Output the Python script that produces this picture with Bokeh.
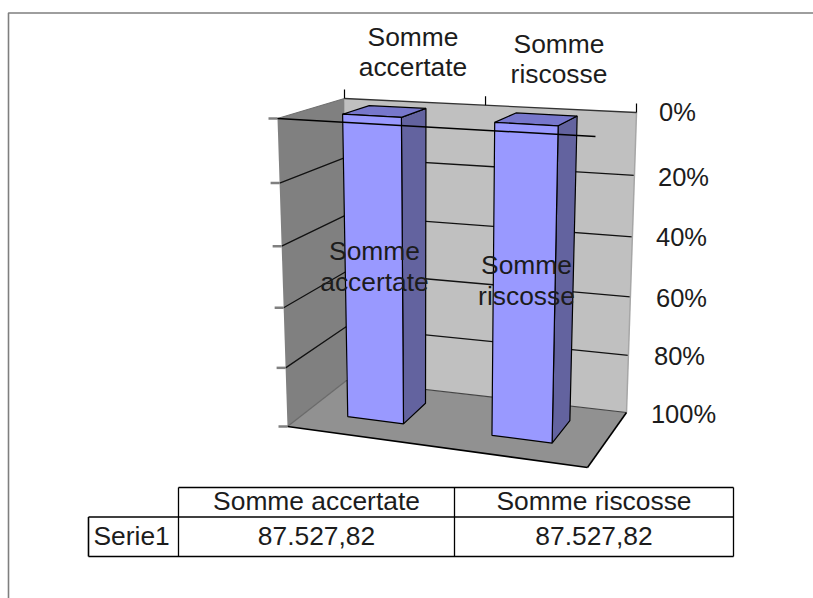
from bokeh.embed import file_html
from bokeh.resources import INLINE
from bokeh.plotting import figure
from bokeh.models import Range1d
from bokeh.core.properties import value

# ---- data ----
categories = ["Somme accertate", "Somme riscosse"]
category_lines = [["Somme", "accertate"], ["Somme", "riscosse"]]
series_name = "Serie1"
series_values = [87527.82, 87527.82]
value_labels = ["87.527,82", "87.527,82"]
pct_ticks = [0, 20, 40, 60, 80, 100]
pct_labels = ["0%", "20%", "40%", "60%", "80%", "100%"]

# ---- layout: 3D box corners in image pixels ----
W, H = 813, 598
FONT = value("Liberation Sans")
FS = "26.4px"
FS_AXIS = "25.5px"
FTL, FTR = (277, 118), (595, 136)   # front top left / right
FBL, FBR = (287, 426), (587, 467)
BTL, BTR = (344, 98), (636, 112)
BBL, BBR = (346, 380), (626, 412)
PERSP = 0.06
bar_center = [0.234, 0.733]
bar_width = [0.19, 0.205]
bar_z = (0.33, 0.75)
cat_ticks = [0, 0.483, 1]


def proj(x, pct, z):
    t = pct / 100
    t = t * (1 + PERSP * (1 - t))
    def lerp(a, b, f):
        return (a[0] + (b[0] - a[0]) * f, a[1] + (b[1] - a[1]) * f)
    tl = lerp(FTL, BTL, z)
    tr = lerp(FTR, BTR, z)
    bl = lerp(FBL, BBL, z)
    br = lerp(FBR, BBR, z)
    return lerp(lerp(tl, tr, x), lerp(bl, br, x), t)


def poly(p, pts, **kw):
    p.patch([a[0] for a in pts], [a[1] for a in pts], **kw)


def seg(p, a, b, color="black", width=1.4):
    p.line([a[0], b[0]], [a[1], b[1]], line_color=color, line_width=width)


p = figure(width=W, height=H, x_range=Range1d(0, W), y_range=Range1d(H, 0),
           output_backend="svg", toolbar_location=None, min_border=0,
           x_axis_location=None, y_axis_location=None, outline_line_color=None)
p.grid.visible = False

# chart frame
p.line([813, 8, 8], [12.5, 12.5, 598], line_color="#7f7f7f", line_width=1.6)

# walls and floor
poly(p, [proj(0, 0, 1), proj(1, 0, 1), proj(1, 100, 1), proj(0, 100, 1)], fill_color="#c0c0c0", line_color=None)
poly(p, [proj(0, 0, 0), proj(0, 0, 1), proj(0, 100, 1), proj(0, 100, 0)], fill_color="#808080", line_color=None)
poly(p, [proj(0, 100, 0), proj(1, 100, 0), proj(1, 100, 1), proj(0, 100, 1)], fill_color="#919191", line_color=None)

# gridlines
for t in pct_ticks[1:-1]:
    p.line(*zip(proj(0, t, 0), proj(0, t, 1), proj(1, t, 1)), line_color="#111111", line_width=1.3)
seg(p, proj(0, 0, 0), proj(0, 0, 1), "#707070", 1.3)
seg(p, proj(0, 100, 0), proj(0, 100, 1), "#6a6a6a", 1.3)
seg(p, proj(0, 100, 1), proj(1, 100, 1), "#444444", 1.2)
seg(p, proj(1, 0, 1), proj(1, 100, 1), "#a6a6a6", 1.5)
seg(p, proj(0, 0, 1), proj(1, 0, 1), "#333333", 1.3)
seg(p, proj(0, 100, 0), proj(1, 100, 0), "black", 1.6)
seg(p, proj(1, 100, 0), proj(1, 100, 1), "black", 1.6)

# axis ticks
for x in cat_ticks:
    a = proj(x, 0, 1)
    seg(p, a, (a[0], a[1] - 9), "black", 1.2)
for t in pct_ticks:
    a = proj(0, t, 0)
    seg(p, a, (a[0] - 9, a[1]), "#808080", 2.5)

# bars
FRONT, SIDE, TOP = "#9999ff", "#63639f", "#7777cc"
for c, w, v in zip(bar_center, bar_width, series_values):
    pct = v / v * 100
    x0, x1 = c - w / 2, c + w / 2
    z0, z1 = bar_z
    edge = dict(line_color="black", line_width=1.2)
    poly(p, [proj(x1, 0, z0), proj(x1, 0, z1), proj(x1, pct, z1), proj(x1, pct, z0)], fill_color=SIDE, **edge)
    poly(p, [proj(x0, 0, z0), proj(x0, 0, z1), proj(x1, 0, z1), proj(x1, 0, z0)], fill_color=TOP, **edge)
    poly(p, [proj(x0, 0, z0), proj(x1, 0, z0), proj(x1, pct, z0), proj(x0, pct, z0)], fill_color=FRONT, **edge)

# category axis line drawn on top
seg(p, proj(0, 0, 0), proj(1, 0, 0), "black", 1.5)


def label(p, x, y, s, align="center", size=FS):
    p.text([x], [y], text=[s], text_font=FONT, text_font_size=size, text_color="#1c1c1c",
           text_align=align, text_baseline="middle")


# value axis labels
label_x = [677, 683, 681, 681, 679, 683]
label_y = [111, 176, 236, 297, 355, 413]
for x, y, s in zip(label_x, label_y, pct_labels):
    label(p, x, y, s, size=FS_AXIS)

# category labels above
top_x = [412.5, 558.5]
top_y = [36.5, 43]
for x, y, lines in zip(top_x, top_y, category_lines):
    for i, s in enumerate(lines):
        label(p, x, y + i * 30, s)

# data labels
dl_x = [374, 526]
dl_y = [250.5, 264.5]
for x, y, lines in zip(dl_x, dl_y, category_lines):
    for i, s in enumerate(lines):
        label(p, x, y + i * 31, s)

# data table
col_x = [88, 178, 454, 733]
row_y = [487, 516.5, 556]
seg(p, (col_x[1], row_y[0]), (col_x[3], row_y[0]), "black", 1.3)
seg(p, (col_x[0], row_y[1]), (col_x[3], row_y[1]), "black", 1.6)
seg(p, (col_x[0], row_y[2]), (col_x[3], row_y[2]), "black", 1.6)
seg(p, (col_x[0], row_y[1]), (col_x[0], row_y[2]), "black", 1.6)
seg(p, (col_x[1], row_y[0]), (col_x[1], row_y[2]), "black", 1.3)
seg(p, (col_x[2], row_y[0]), (col_x[2], row_y[2]), "black", 1.3)
seg(p, (col_x[3], row_y[0]), (col_x[3], row_y[2]), "black", 1.3)
for i, cat in enumerate(categories):
    cx = (col_x[i + 1] + col_x[i + 2]) / 2
    label(p, cx, 500, cat)
    label(p, cx, 535, value_labels[i])
label(p, 93, 535, series_name, "left")

open("out.html", "w").write(file_html(p, INLINE))
